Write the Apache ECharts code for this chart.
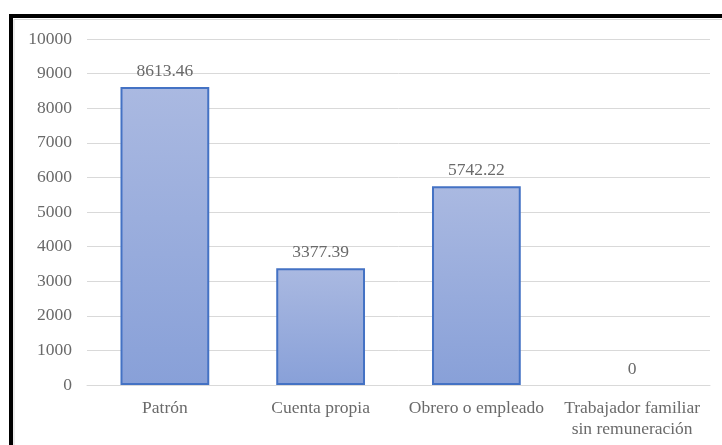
<!DOCTYPE html>
<html><head><meta charset="utf-8">
<script src="https://cdn.jsdelivr.net/npm/echarts@6/dist/echarts.min.js"></script>
<style>html,body{margin:0;padding:0;background:#fff}#c{width:722px;height:445px}</style>
</head><body><div id="c"></div>
<script>
const categories = ['Patrón', 'Cuenta propia', 'Obrero o empleado', 'Trabajador familiar\nsin remuneración'];
const values = [8613.46, 3377.39, 5742.22, 0];
const valueLabels = ['8613.46', '3377.39', '5742.22', '0'];

const chart = echarts.init(document.getElementById('c'));
const font = "'Liberation Serif', 'Times New Roman', serif";
const textColor = '#6a6a6a';
chart.setOption({
  animation: false,
  backgroundColor: '#fff',
  graphic: [
    {type: 'rect', shape: {x: 11, y: 16, width: 800, height: 500}, style: {fill: 'none', stroke: '#000', lineWidth: 4}, z: 10},
    {type: 'polyline', shape: {points: [[14, 445], [14, 19.5], [722, 19.5]]}, style: {fill: 'none', stroke: '#d9d9d9', lineWidth: 1}, z: 10}
  ],
  grid: {left: 87, right: 12, top: 39, bottom: 60},
  xAxis: {
    type: 'category', data: categories,
    axisLine: {lineStyle: {color: '#d9d9d9'}},
    axisTick: {show: false},
    axisLabel: {color: textColor, fontFamily: font, fontSize: 17.5, margin: 13, lineHeight: 21, interval: 0}
  },
  yAxis: {
    type: 'value', min: 0, max: 10000, interval: 1000,
    axisLine: {show: false}, axisTick: {show: false},
    splitLine: {lineStyle: {color: '#d9d9d9'}},
    axisLabel: {color: textColor, fontFamily: font, fontSize: 17.5, margin: 15, formatter: v => String(v)}
  },
  series: [{
    type: 'bar', barWidth: '57%',
    data: values.map(v => ({value: v, itemStyle: v === 0 ? {borderWidth: 0} : {}})),
    itemStyle: {
      color: new echarts.graphic.LinearGradient(0, 0, 0, 1, [{offset: 0, color: '#aab9e1'}, {offset: 1, color: '#88a0d8'}]),
      borderColor: '#4472c4', borderWidth: 2
    },
    label: {
      show: true, position: 'top', distance: 7,
      color: textColor, fontFamily: font, fontSize: 17.5,
      formatter: p => valueLabels[p.dataIndex]
    }
  }]
});
</script></body></html>
